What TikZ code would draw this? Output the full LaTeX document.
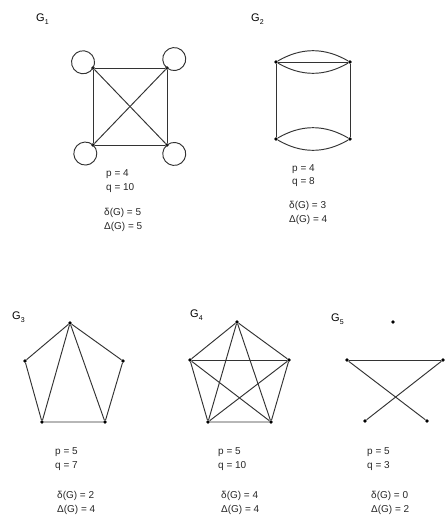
\documentclass[tikz,border=0pt]{standalone}
\usepackage{fontspec}
\setmainfont{Liberation Sans}
\newcommand{\gname}[1]{G\raisebox{-0.45ex}{\fontsize{7}{7}\selectfont #1}}
\begin{document}
\begin{tikzpicture}[x=1pt,y=-1pt,
  vtx/.style={circle,fill=black,inner sep=0pt,minimum size=3.6pt},
  edge/.style={line width=0.95pt,black!80},
  lbl/.style={font=\fontsize{11}{11}\selectfont,inner sep=0pt,anchor=west},
  info/.style={font=\fontsize{10}{11}\selectfont,inner sep=0pt,anchor=west,text=black!85}]
\useasboundingbox (0,0) rectangle (446,520);

% ---------- G1 ----------
\node[lbl] (l1) at (36,19) {\gname{1}};
\node[vtx] (a1) at (93,68) {};
\node[vtx] (b1) at (167,68) {};
\node[vtx] (c1) at (93,145) {};
\node[vtx] (d1) at (167,145) {};
\draw[edge] (a1) -- (b1) -- (d1) -- (c1) -- (a1);
\draw[edge] (a1) -- (d1);
\draw[edge] (b1) -- (c1);
\draw[edge] (a1.center) arc[start angle=30, delta angle=360, radius=11.5];
\draw[edge] (b1.center) arc[start angle=129, delta angle=360, radius=11.5];
\draw[edge] (c1.center) arc[start angle=312, delta angle=360, radius=11.5];
\draw[edge] (d1.center) arc[start angle=231, delta angle=360, radius=11.5];
\node[info] (p1) at (106,174) {p = 4};
\node[info] (q1) at (106,188) {q = 10};
\node[info] (s1) at (104,213) {δ(G) = 5};
\node[info] (t1) at (104,227) {Δ(G) = 5};

% ---------- G2 ----------
\node[lbl] (l2) at (251,19) {\gname{2}};
\node[vtx] (a2) at (276,62) {};
\node[vtx] (b2) at (350,62) {};
\node[vtx] (c2) at (276,139) {};
\node[vtx] (d2) at (350,139) {};
\draw[edge] (a2) -- (b2);
\draw[edge] (a2) to[bend left=30] (b2);
\draw[edge] (a2) to[bend right=30] (b2);
\draw[edge] (a2) -- (c2);
\draw[edge] (b2) -- (d2);
\draw[edge] (c2) to[bend left=30] (d2);
\draw[edge] (c2) to[bend right=30] (d2);
\node[info] (p2) at (292,169) {p = 4};
\node[info] (q2) at (292,182) {q = 8};
\node[info] (s2) at (289,206) {δ(G) = 3};
\node[info] (t2) at (289,220) {Δ(G) = 4};

% ---------- G3 ----------
\node[lbl] (l3) at (12,317) {\gname{3}};
\node[vtx] (a3) at (70,323) {};
\node[vtx] (b3) at (25,361) {};
\node[vtx] (c3) at (123,361) {};
\node[vtx] (d3) at (42,422) {};
\node[vtx] (e3) at (105,422) {};
\draw[edge] (a3) -- (b3) -- (d3) -- (e3) -- (c3) -- (a3);
\draw[edge] (a3) -- (d3);
\draw[edge] (a3) -- (e3);
\node[info] (p3) at (55,452) {p = 5};
\node[info] (q3) at (55,466) {q = 7};
\node[info] (s3) at (57,496) {δ(G) = 2};
\node[info] (t3) at (57,510) {Δ(G) = 4};

% ---------- G4 ----------
\node[lbl] (l4) at (190,315) {\gname{4}};
\node[vtx] (a4) at (237,322) {};
\node[vtx] (b4) at (190,360) {};
\node[vtx] (c4) at (289,360) {};
\node[vtx] (d4) at (208,422) {};
\node[vtx] (e4) at (271,422) {};
\draw[edge] (a4) -- (b4) -- (d4) -- (e4) -- (c4) -- (a4);
\draw[edge] (a4) -- (d4);
\draw[edge] (a4) -- (e4);
\draw[edge] (b4) -- (c4);
\draw[edge] (b4) -- (e4);
\draw[edge] (c4) -- (d4);
\node[info] (p4) at (218,452) {p = 5};
\node[info] (q4) at (218,466) {q = 10};
\node[info] (s4) at (221,496) {δ(G) = 4};
\node[info] (t4) at (221,510) {Δ(G) = 4};

% ---------- G5 ----------
\node[lbl] (l5) at (331,319) {\gname{5}};
\node[vtx] (a5) at (393,322) {};
\node[vtx] (b5) at (347,360) {};
\node[vtx] (c5) at (443,360) {};
\node[vtx] (d5) at (365,421) {};
\node[vtx] (e5) at (427,421) {};
\draw[edge] (b5) -- (c5);
\draw[edge] (b5) -- (e5);
\draw[edge] (c5) -- (d5);
\node[info] (p5) at (367,452) {p = 5};
\node[info] (q5) at (367,466) {q = 3};
\node[info] (s5) at (371,496) {δ(G) = 0};
\node[info] (t5) at (371,510) {Δ(G) = 2};
\end{tikzpicture}
\end{document}
